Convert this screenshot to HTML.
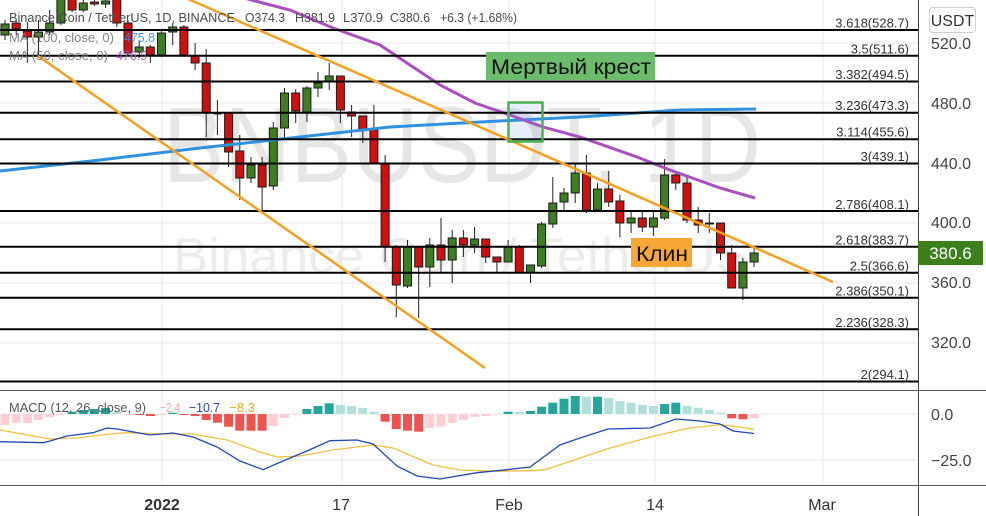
<!DOCTYPE html>
<html>
<head>
<meta charset="utf-8">
<style>
html,body{margin:0;padding:0;background:#fff;}
svg{display:block;}
text{font-family:"Liberation Sans","DejaVu Sans",sans-serif;}
</style>
</head>
<body>
<svg width="986" height="516" viewBox="0 0 986 516" xmlns="http://www.w3.org/2000/svg">
<defs>
<clipPath id="mainclip"><rect x="0" y="0" width="918" height="389"/></clipPath>
<clipPath id="macdclip"><rect x="0" y="391" width="918" height="94"/></clipPath>
</defs>
<rect x="0" y="0" width="986" height="516" fill="#fff"/>

<!-- grid -->
<g stroke="#e9e9e9" stroke-width="1">
<path d="M162 0V485M342 0V485M509 0V485M655 0V485M823 0V485"/>
<path d="M0 43H918M0 103H918M0 163H918M0 223H918M0 283H918M0 343H918"/>
<path d="M0 414H918M0 460H918"/>
</g>

<!-- watermark -->
<text x="163" y="182" font-size="108" fill="#e6e6e6" textLength="598" lengthAdjust="spacingAndGlyphs">BNBUSDT, 1D</text>
<text x="173" y="273" font-size="50" fill="#ececec" textLength="578" lengthAdjust="spacingAndGlyphs">Binance Coin / TetherUS</text>

<g clip-path="url(#mainclip)">
<!-- wicks -->
<path fill="none" stroke="#222" stroke-width="1" d="M5 20V40 M16.2 20V35 M27.4 22V63 M38.5 20V58 M49.7 10V35 M60.9 -10V25 M72.1 -10V12 M83.3 -5V12 M94.4 -5V6 M105.6 -5V8 M116.8 -10V27 M128 20V55 M139.2 40V58 M150.3 45V63 M161.5 30V57 M172.7 23V45 M183.9 25V57 M195.1 43V70 M206.2 49V137 M217.4 100V135 M228.6 113V167 M239.8 135V200 M251 157V183 M262.1 157V210 M273.3 122V190 M284.5 88V138 M295.7 89V123 M306.9 86V122 M318 72V97 M329.2 63V90 M340.4 76V123 M351.6 105V137 M362.8 116V143 M373.9 105V163 M385.1 155V262 M396.3 245V317 M407.5 240V288 M418.7 247V318 M429.8 238V287 M441 218V272 M452.2 230V283 M463.4 230V257 M474.6 227V253 M485.7 239V263 M496.9 257V273 M508.1 240V262 M519.3 245V273 M530.5 265V283 M541.6 222V268 M552.8 177V228 M564 188V212 M575.2 163V203 M586.4 155V213 M597.5 183V212 M608.7 171V207 M619.9 195V237 M631.1 212V233 M642.3 212V232 M653.4 212V236 M664.6 159V220 M675.8 173V190 M687 176V223 M698.2 207V233 M709.3 213V233 M720.5 223V260 M731.7 245V288 M742.9 258V300 M754.1 248V267"/>
<!-- green bodies -->
<g fill="#3e7d22" stroke="#1a1a1a" stroke-width="1">
<rect x="1" y="24" width="8" height="11"/>
<rect x="34.5" y="32" width="8" height="5"/>
<rect x="45.7" y="23" width="8" height="9"/>
<rect x="56.9" y="-5" width="8" height="28"/>
<rect x="79.3" y="3" width="8" height="7"/>
<rect x="101.6" y="1" width="8" height="3"/>
<rect x="135.2" y="47" width="8" height="5"/>
<rect x="157.5" y="33" width="8" height="22"/>
<rect x="168.7" y="27" width="8" height="5"/>
<rect x="247" y="165" width="8" height="13"/>
<rect x="269.3" y="128" width="8" height="58"/>
<rect x="280.5" y="93" width="8" height="35"/>
<rect x="302.9" y="88" width="8" height="24"/>
<rect x="314" y="83" width="8" height="5"/>
<rect x="325.2" y="76" width="8" height="6"/>
<rect x="403.5" y="247" width="8" height="39"/>
<rect x="425.8" y="245" width="8" height="22"/>
<rect x="448.2" y="238" width="8" height="22"/>
<rect x="470.6" y="239" width="8" height="6"/>
<rect x="504.1" y="247" width="8" height="15"/>
<rect x="526.5" y="265" width="8" height="8"/>
<rect x="537.6" y="224" width="8" height="42"/>
<rect x="548.8" y="203" width="8" height="21"/>
<rect x="560" y="193" width="8" height="9"/>
<rect x="571.2" y="173" width="8" height="20"/>
<rect x="593.5" y="189" width="8" height="21"/>
<rect x="627.1" y="218" width="8" height="5"/>
<rect x="649.4" y="218" width="8" height="9"/>
<rect x="660.6" y="175" width="8" height="43"/>
<rect x="738.9" y="262" width="8" height="26"/>
<rect x="750.1" y="253" width="8" height="9"/>
</g>
<!-- red bodies -->
<g fill="#d0100f" stroke="#1a1a1a" stroke-width="1">
<rect x="12.2" y="23" width="8" height="6"/>
<rect x="23.4" y="31" width="8" height="6"/>
<rect x="68.1" y="-5" width="8" height="15"/>
<rect x="90.4" y="2" width="8" height="2"/>
<rect x="112.8" y="-5" width="8" height="28"/>
<rect x="124" y="23" width="8" height="30"/>
<rect x="146.3" y="47" width="8" height="8"/>
<rect x="179.9" y="27" width="8" height="28"/>
<rect x="191.1" y="56" width="8" height="7"/>
<rect x="202.2" y="63" width="8" height="50"/>
<rect x="224.6" y="113" width="8" height="39"/>
<rect x="235.8" y="151" width="8" height="27"/>
<rect x="258.1" y="165" width="8" height="22"/>
<rect x="291.7" y="93" width="8" height="18"/>
<rect x="336.4" y="76" width="8" height="34"/>
<rect x="347.6" y="112" width="8" height="4"/>
<rect x="358.8" y="116" width="8" height="14"/>
<rect x="369.9" y="130" width="8" height="33"/>
<rect x="381.1" y="164" width="8" height="83"/>
<rect x="392.3" y="247" width="8" height="38"/>
<rect x="414.7" y="247" width="8" height="20"/>
<rect x="437" y="245" width="8" height="15"/>
<rect x="459.4" y="238" width="8" height="7"/>
<rect x="481.7" y="239" width="8" height="18"/>
<rect x="492.9" y="257" width="8" height="5"/>
<rect x="515.3" y="247" width="8" height="26"/>
<rect x="582.4" y="173" width="8" height="37"/>
<rect x="604.7" y="189" width="8" height="13"/>
<rect x="615.9" y="201" width="8" height="22"/>
<rect x="638.3" y="218" width="8" height="9"/>
<rect x="671.8" y="175" width="8" height="8"/>
<rect x="683" y="183" width="8" height="37"/>
<rect x="694.2" y="220" width="8" height="5"/>
<rect x="716.5" y="223" width="8" height="30"/>
<rect x="727.7" y="253" width="8" height="35"/>
</g>
<path d="M213.4 113.5H221.4M705 223.5H714" stroke="#1a1a1a" stroke-width="2"/>

<!-- moving averages -->
<polyline fill="none" stroke="#2f92e0" stroke-width="3" points="0,171 100,160 200,148 300,137 390,127 480,122 580,117 680,110 756,109"/>
<polyline fill="none" stroke="#aa4fc0" stroke-width="3" points="240,-3 290,10 333,28 380,45 410,65 440,85 475,103 510,115 543,127 580,137 637,157 670,170 720,188 755,198"/>

<!-- fib lines -->
<path fill="none" stroke="#000" stroke-width="2" d="M0 30H918M0 55.7H918M0 81.5H918M0 112.7H918M0 139.3H918M0 163.5H918M0 211H918M0 246.7H918M0 272.7H918M0 297.7H918M0 329.3H918M0 381.5H918"/>

<!-- trend lines -->
<line x1="170" y1="-9" x2="833" y2="282" stroke="#f5a020" stroke-width="2.5"/>
<line x1="38" y1="56" x2="485" y2="368" stroke="#f5a020" stroke-width="2.5"/>

<!-- death cross box -->
<rect x="508.5" y="102.5" width="34" height="39" fill="rgba(90,140,220,0.14)" stroke="#4caf50" stroke-width="2.5"/>
</g>

<!-- fib labels -->
<g font-size="13" fill="#333" text-anchor="end">
<text x="909" y="27.5">3.618(528.7)</text>
<text x="909" y="53.5">3.5(511.6)</text>
<text x="909" y="79">3.382(494.5)</text>
<text x="909" y="110">3.236(473.3)</text>
<text x="909" y="136.5">3.114(455.6)</text>
<text x="909" y="161">3(439.1)</text>
<text x="909" y="209">2.786(408.1)</text>
<text x="909" y="244.5">2.618(383.7)</text>
<text x="909" y="270.5">2.5(366.6)</text>
<text x="909" y="295.5">2.386(350.1)</text>
<text x="909" y="327">2.236(328.3)</text>
<text x="909" y="379">2(294.1)</text>
</g>

<!-- annotation labels -->
<rect x="486" y="52" width="169" height="28" fill="#6cbb6c"/>
<text x="491" y="74" font-size="21" fill="#111" textLength="160" lengthAdjust="spacingAndGlyphs">Мертвый крест</text>
<rect x="631" y="238" width="61" height="29" fill="#f7a733"/>
<text x="636" y="261" font-size="21" fill="#111" textLength="52" lengthAdjust="spacingAndGlyphs">Клин</text>

<!-- header legend -->
<g font-size="13" fill="#4a4a4a">
<text x="9" y="22" textLength="226" lengthAdjust="spacingAndGlyphs">Binance Coin / TetherUS, 1D, BINANCE</text>
<text x="245" y="22" textLength="40" lengthAdjust="spacingAndGlyphs">O374.3</text>
<text x="295" y="22" textLength="40" lengthAdjust="spacingAndGlyphs">H381.9</text>
<text x="343" y="22" textLength="40" lengthAdjust="spacingAndGlyphs">L370.9</text>
<text x="390" y="22" textLength="40" lengthAdjust="spacingAndGlyphs">C380.6</text>
<text x="440" y="22" textLength="77" lengthAdjust="spacingAndGlyphs">+6.3 (+1.68%)</text>
</g>
<g font-size="13" fill="#777" fill-opacity="0.9">
<text x="9" y="42" textLength="105" lengthAdjust="spacingAndGlyphs">MA (100, close, 0)</text>
<text x="124" y="42" fill="#2a90e6" textLength="31" lengthAdjust="spacingAndGlyphs">475.8</text>
<text x="9" y="60" textLength="99" lengthAdjust="spacingAndGlyphs">MA (50, close, 0)</text>
<text x="116" y="60" fill="#aa4fc0" textLength="31" lengthAdjust="spacingAndGlyphs">476.5</text>
</g>

<!-- MACD pane -->
<g clip-path="url(#macdclip)">
<g>
<rect x="0.5" y="414" width="9" height="11" fill="#ffcdd2"/>
<rect x="11.7" y="414" width="9" height="9" fill="#ffcdd2"/>
<rect x="22.9" y="414" width="9" height="9" fill="#ffcdd2"/>
<rect x="34" y="414" width="9" height="6" fill="#ffcdd2"/>
<rect x="45.2" y="414" width="9" height="3" fill="#ffcdd2"/>
<rect x="56.4" y="414" width="9" height="1" fill="#ffcdd2"/>
<rect x="67.6" y="411.7" width="9" height="2.3" fill="#26a69a"/>
<rect x="78.8" y="410" width="9" height="4" fill="#26a69a"/>
<rect x="89.9" y="409" width="9" height="5" fill="#26a69a"/>
<rect x="101.1" y="408" width="9" height="6" fill="#26a69a"/>
<rect x="112.3" y="411.7" width="9" height="2.3" fill="#b2dfdb"/>
<rect x="123.5" y="414" width="9" height="0.6" fill="#ffcdd2"/>
<rect x="134.7" y="414" width="9" height="1" fill="#ef5350"/>
<rect x="145.8" y="414" width="9" height="2" fill="#ef5350"/>
<rect x="157" y="414" width="9" height="1" fill="#ffcdd2"/>
<rect x="168.2" y="412.7" width="9" height="1.3" fill="#26a69a"/>
<rect x="179.4" y="414" width="9" height="1" fill="#ef5350"/>
<rect x="190.6" y="414" width="9" height="2" fill="#ef5350"/>
<rect x="201.7" y="414" width="9" height="6" fill="#ef5350"/>
<rect x="212.9" y="414" width="9" height="8.7" fill="#ef5350"/>
<rect x="224.1" y="414" width="9" height="12.7" fill="#ef5350"/>
<rect x="235.3" y="414" width="9" height="16.7" fill="#ef5350"/>
<rect x="246.5" y="414" width="9" height="16.7" fill="#ef5350"/>
<rect x="257.6" y="414" width="9" height="16.7" fill="#ef5350"/>
<rect x="268.8" y="414" width="9" height="12" fill="#ffcdd2"/>
<rect x="280" y="414" width="9" height="4" fill="#ffcdd2"/>
<rect x="291.2" y="414" width="9" height="0.7" fill="#ffcdd2"/>
<rect x="302.4" y="409" width="9" height="5" fill="#26a69a"/>
<rect x="313.5" y="406" width="9" height="8" fill="#26a69a"/>
<rect x="324.7" y="403.3" width="9" height="10.7" fill="#26a69a"/>
<rect x="335.9" y="405" width="9" height="9" fill="#b2dfdb"/>
<rect x="347.1" y="406" width="9" height="8" fill="#b2dfdb"/>
<rect x="358.3" y="408" width="9" height="6" fill="#b2dfdb"/>
<rect x="369.4" y="412" width="9" height="2" fill="#b2dfdb"/>
<rect x="380.6" y="414" width="9" height="7.7" fill="#ef5350"/>
<rect x="391.8" y="414" width="9" height="15" fill="#ef5350"/>
<rect x="403" y="414" width="9" height="16.7" fill="#ef5350"/>
<rect x="414.2" y="414" width="9" height="17.7" fill="#ef5350"/>
<rect x="425.3" y="414" width="9" height="14" fill="#ffcdd2"/>
<rect x="436.5" y="414" width="9" height="12.7" fill="#ffcdd2"/>
<rect x="447.7" y="414" width="9" height="9" fill="#ffcdd2"/>
<rect x="458.9" y="414" width="9" height="6" fill="#ffcdd2"/>
<rect x="470.1" y="414" width="9" height="3" fill="#ffcdd2"/>
<rect x="481.2" y="414" width="9" height="2" fill="#ffcdd2"/>
<rect x="492.4" y="414" width="9" height="0.7" fill="#ffcdd2"/>
<rect x="503.6" y="411.7" width="9" height="2.3" fill="#26a69a"/>
<rect x="514.8" y="412" width="9" height="2" fill="#b2dfdb"/>
<rect x="526" y="411" width="9" height="3" fill="#26a69a"/>
<rect x="537.1" y="406.7" width="9" height="7.3" fill="#26a69a"/>
<rect x="548.3" y="402.7" width="9" height="11.3" fill="#26a69a"/>
<rect x="559.5" y="398.7" width="9" height="15.3" fill="#26a69a"/>
<rect x="570.7" y="396" width="9" height="18" fill="#26a69a"/>
<rect x="581.9" y="396.7" width="9" height="17.3" fill="#b2dfdb"/>
<rect x="593" y="396.7" width="9" height="17.3" fill="#26a69a"/>
<rect x="604.2" y="398" width="9" height="16" fill="#b2dfdb"/>
<rect x="615.4" y="401" width="9" height="13" fill="#b2dfdb"/>
<rect x="626.6" y="402.7" width="9" height="11.3" fill="#b2dfdb"/>
<rect x="637.8" y="405" width="9" height="9" fill="#b2dfdb"/>
<rect x="648.9" y="406" width="9" height="8" fill="#b2dfdb"/>
<rect x="660.1" y="404" width="9" height="10" fill="#26a69a"/>
<rect x="671.3" y="402.7" width="9" height="11.3" fill="#26a69a"/>
<rect x="682.5" y="406" width="9" height="8" fill="#b2dfdb"/>
<rect x="693.7" y="407.7" width="9" height="6.3" fill="#b2dfdb"/>
<rect x="704.8" y="410" width="9" height="4" fill="#b2dfdb"/>
<rect x="716" y="412.7" width="9" height="1.3" fill="#b2dfdb"/>
<rect x="727.2" y="414" width="9" height="4.3" fill="#ef5350"/>
<rect x="738.4" y="414" width="9" height="5.3" fill="#ef5350"/>
<rect x="749.6" y="414" width="9" height="4.3" fill="#ffcdd2"/>
</g>
<polyline fill="none" stroke="#f0c040" stroke-width="1.3" points="0,430 33,436 50,439 77,438 110,434 127,432.7 167,434 193,434 227,440 260,452 277,457 300,456 333,450 373,445 393,448 433,465 460,470 500,471.3 530,470.7 545,469.7 580,458 610,448 650,437 690,428 720,424.7 740,427 754,429.3"/>
<polyline fill="none" stroke="#2448b8" stroke-width="1.3" points="0,441.7 43,442.7 50,441 67,436 93,432.7 107,428 117,429 150,435 173,433 193,437 217,447 240,461 263,469.7 283,461 307,451 330,440.7 357,440 373,444 397,466 417,476 440,479 477,472.7 507,469.7 530,467 560,445 577,439 608,429 650,428 676,419 700,421 720,424 733,431 754,433.5"/>
</g>
<g font-size="13">
<text x="9" y="412" fill="#555" textLength="137" lengthAdjust="spacingAndGlyphs">MACD (12, 26, close, 9)</text>
<text x="160" y="412" fill="#f7a6a6" textLength="20" lengthAdjust="spacingAndGlyphs">−2.4</text>
<text x="189" y="412" fill="#2448b0" textLength="31" lengthAdjust="spacingAndGlyphs">−10.7</text>
<text x="229" y="412" fill="#e0b020" textLength="26" lengthAdjust="spacingAndGlyphs">−8.3</text>
</g>

<!-- pane borders -->
<path d="M0 390.5H986M0 485.5H986" stroke="#555" stroke-width="1"/>
<path d="M918.5 0V516" stroke="#444" stroke-width="1"/>

<!-- right price axis -->
<rect x="929.5" y="7.5" width="46" height="25" rx="3" fill="#fff" stroke="#cfcfcf"/>
<text x="952.5" y="26" font-size="16" fill="#333" text-anchor="middle">USDT</text>
<g font-size="16" fill="#444">
<text x="931" y="49">520.0</text>
<text x="931" y="109">480.0</text>
<text x="931" y="169">440.0</text>
<text x="931" y="228">400.0</text>
<text x="931" y="288">360.0</text>
<text x="931" y="348">320.0</text>
<text x="931" y="420">0.0</text>
<text x="931" y="466">−25.0</text>
</g>
<rect x="918" y="241" width="65" height="24" fill="#3e7f1d"/>
<text x="950.5" y="259" font-size="17" fill="#fff" text-anchor="middle">380.6</text>

<!-- time axis -->
<g font-size="16" fill="#333" text-anchor="middle">
<text x="162" y="510" font-weight="bold">2022</text>
<text x="341" y="510">17</text>
<text x="509" y="510">Feb</text>
<text x="655" y="510">14</text>
<text x="822" y="510">Mar</text>
</g>
</svg>
</body>
</html>
